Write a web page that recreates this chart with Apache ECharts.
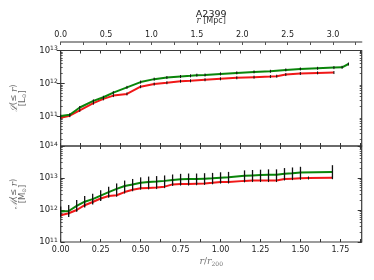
<!DOCTYPE html>
<html><head><meta charset="utf-8">
<script src="https://cdn.jsdelivr.net/npm/echarts@6/dist/echarts.min.js"></script>
<style>html,body{margin:0;padding:0;background:#fff}#c{width:374px;height:280px}</style>
</head><body><div id="c"></div>
<script>
// ---- data ----
const lumMpcGreen = [0.00,0.10,0.21,0.36,0.47,0.58,0.73,0.88,1.03,1.17,1.32,1.43,1.50,1.59,1.76,1.94,2.13,2.31,2.48,2.64,2.83,3.01,3.10,3.17];
const lumGreen = [1.02e11,1.12e11,1.86e11,2.95e11,3.80e11,5.25e11,7.59e11,1.10e12,1.35e12,1.51e12,1.62e12,1.70e12,1.78e12,1.80e12,1.95e12,2.09e12,2.24e12,2.34e12,2.57e12,2.75e12,2.88e12,3.02e12,3.09e12,3.89e12];
const lumMpcRed = [0.00,0.10,0.21,0.36,0.47,0.58,0.73,0.88,1.03,1.17,1.32,1.43,1.59,1.76,1.94,2.13,2.31,2.38,2.48,2.64,2.83,3.01];
const lumRed = [9.1e10,1.05e11,1.51e11,2.51e11,3.39e11,4.27e11,4.79e11,7.94e11,9.55e11,1.05e12,1.17e12,1.20e12,1.29e12,1.38e12,1.48e12,1.55e12,1.62e12,1.66e12,1.86e12,2.00e12,2.09e12,2.14e12];

const massRGreen = [0,0.05,0.10,0.15,0.20,0.25,0.30,0.35,0.40,0.45,0.50,0.55,0.60,0.65,0.70,0.75,0.80,0.85,0.90,0.95,1.00,1.05,1.15,1.20,1.25,1.30,1.35,1.40,1.45,1.50,1.70];
const massGreen = [8.9e11,9.3e11,1.35e12,1.82e12,2.19e12,2.82e12,3.63e12,4.57e12,5.62e12,6.31e12,7.08e12,7.50e12,7.76e12,8.13e12,8.71e12,9.12e12,9.33e12,9.33e12,9.55e12,9.77e12,1.02e13,1.05e13,1.17e13,1.20e13,1.23e13,1.26e13,1.26e13,1.35e13,1.41e13,1.48e13,1.55e13];
const massErrGreenDex = [0.16,0.19,0.18,0.18,0.17,0.17,0.17,0.17,0.17,0.17,0.17,0.17,0.17,0.17,0.17,0.17,0.17,0.17,0.17,0.17,0.17,0.17,0.17,0.17,0.17,0.17,0.17,0.18,0.18,0.18,0.21];
const massRRed = [0,0.05,0.10,0.15,0.20,0.25,0.30,0.35,0.40,0.45,0.50,0.55,0.60,0.65,0.70,0.75,0.80,0.85,0.90,0.95,1.00,1.05,1.15,1.20,1.25,1.30,1.35,1.40,1.45,1.50,1.55,1.70];
const massRed = [6.9e11,7.9e11,1.0e12,1.41e12,1.78e12,2.29e12,2.75e12,2.88e12,3.63e12,4.27e12,4.79e12,4.90e12,5.01e12,5.37e12,6.31e12,6.46e12,6.46e12,6.61e12,6.76e12,7.08e12,7.50e12,7.50e12,8.13e12,8.32e12,8.32e12,8.32e12,8.32e12,9.33e12,9.55e12,9.77e12,1.0e13,1.02e13];

const topTickLabels = [0.0,0.5,1.0,1.5,2.0,2.5,3.0];
const topTicks = [0,0.25,0.5,0.75,1,1.25,1.5,1.75,2,2.25,2.5,2.75,3,3.25];
const bottomTickLabels = [0,0.25,0.5,0.75,1,1.25,1.5,1.75];
const bottomTicks = [0,0.125,0.25,0.375,0.5,0.625,0.75,0.875,1,1.125,1.25,1.375,1.5,1.625,1.75,1.875];
const lumDecades = [11,12,13];
const massDecades = [11,12,13,14];

// ---- geometry ----
const L = 60.7, W = 301;
const T0 = 50.5, H0 = 95.5, T1 = 146, H1 = 96;
const lumMin = 10.1, lumMax = 13, massMin = 11, massMax = 14;
const mpcMax = 3.316, rMax = 1.883;

function minorTicks(lo, hi) {
  const out = [];
  for (let d = Math.floor(lo); d < hi; d++) for (let k = 2; k <= 9; k++) {
    const v = d + Math.log10(k); if (v > lo && v < hi) out.push(v);
  }
  return out;
}
const lg = Math.log10;
const pts = (xs, ys) => xs.map((x, i) => [x, lg(ys[i])]);

const frameColor = '#3a3a3a';
const tickColor = '#333';
const labelStyle = {fontFamily: 'DejaVu Sans', fontSize: 8, color: '#222'};
const supRich = {
  b: {fontFamily: 'DejaVu Sans', fontSize: 8.5, color: '#222', lineHeight: 10},
  s: {fontFamily: 'DejaVu Sans', fontSize: 6, color: '#222', verticalAlign: 'top', padding: [0, 0, 3, 0]}
};
function yMajor(grid, lo, hi, decades, pos, labeled, name) {
  return {
    type: 'value', gridIndex: grid, min: lo, max: hi, position: pos,
    axisLine: {show: false}, splitLine: {show: false},
    axisTick: {show: true, inside: true, length: 4, customValues: decades, lineStyle: {color: tickColor, width: 1}},
    axisLabel: labeled ? {show: true, customValues: decades, margin: 3,
      formatter: v => '{b|10}{s|' + Math.round(v) + '}', rich: supRich} : {show: false},
    name: name || '', nameLocation: 'middle', nameGap: 33, nameRotate: 90,
    nameTextStyle: {color: '#666', fontFamily: 'DejaVu Sans', fontSize: 8.5, lineHeight: 9,
      rich: {i: {fontFamily: 'DejaVu Serif', fontStyle: 'italic', fontSize: 9, color: '#666'},
             u: {fontFamily: 'DejaVu Sans', fontSize: 5.5, color: '#666', verticalAlign: 'bottom'}}}
  };
}
function yMinor(grid, lo, hi, pos) {
  return {
    type: 'value', gridIndex: grid, min: lo, max: hi, position: pos,
    axisLine: {show: false}, splitLine: {show: false}, axisLabel: {show: false},
    axisTick: {show: true, inside: true, length: 2, customValues: minorTicks(lo, hi), lineStyle: {color: tickColor, width: 0.8}}
  };
}
function xTicksOnly(grid, pos, max, ticks) {
  return {
    type: 'value', gridIndex: grid, min: 0, max: max, position: pos,
    axisLine: {show: false}, splitLine: {show: false}, axisLabel: {show: false},
    axisTick: {show: true, inside: true, length: 3, customValues: ticks, lineStyle: {color: tickColor, width: 1}}
  };
}

function errRender(px, w) {
  return function (params, api) {
    const x = api.value(0), y = api.value(1), e = api.value(2);
    let p1, p2;
    if (px) { const c = api.coord([x, y]); p1 = [c[0], c[1] - px]; p2 = [c[0], c[1] + px]; }
    else { p1 = api.coord([x, y - e]); p2 = api.coord([x, y + e]); }
    return {type: 'line', shape: {x1: p1[0], y1: p1[1], x2: p2[0], y2: p2[1]},
      style: {stroke: '#111', lineWidth: w}};
  };
}

const green = '#0a850a', red = '#f01818';

const option = {
  animation: false,
  grid: [
    {left: L, top: T0, width: W, height: H0, show: true, borderColor: frameColor, borderWidth: 1.2, backgroundColor: 'transparent'},
    {left: L, top: T1, width: W, height: H1, show: true, borderColor: frameColor, borderWidth: 1.2, backgroundColor: 'transparent'}
  ],
  graphic: [
    {type: 'text', x: L + W / 2, y: 15, style: {text: 'A2399', fontFamily: 'DejaVu Sans', fontSize: 9.5, fill: '#222', align: 'center', verticalAlign: 'middle'}}
  ],
  xAxis: [
    {type: 'value', gridIndex: 0, min: 0, max: mpcMax, position: 'top', offset: 8.5,
      axisLine: {show: true, lineStyle: {color: '#777', width: 1.5}}, splitLine: {show: false},
      axisTick: {show: true, inside: true, length: 3, customValues: topTicks, lineStyle: {color: '#555', width: 1}},
      axisLabel: Object.assign({customValues: topTickLabels, margin: 3, formatter: v => v.toFixed(1)}, labelStyle),
      name: '{i|r} [Mpc]', nameLocation: 'middle', nameGap: 17,
      nameTextStyle: {fontFamily: 'DejaVu Sans', fontSize: 8, color: '#333',
        rich: {i: {fontFamily: 'DejaVu Serif', fontStyle: 'italic', fontSize: 8.5, color: '#333'}}}},
    xTicksOnly(0, 'top', rMax, bottomTicks),
    xTicksOnly(0, 'bottom', rMax, bottomTicks),
    {type: 'value', gridIndex: 1, min: 0, max: rMax, position: 'bottom',
      axisLine: {show: false}, splitLine: {show: false},
      axisTick: {show: true, inside: true, length: 3, customValues: bottomTicks, lineStyle: {color: tickColor, width: 1}},
      axisLabel: Object.assign({customValues: bottomTickLabels, margin: 4, formatter: v => v.toFixed(2)}, labelStyle),
      name: '{i|r}/{i|r}{u|200}', nameLocation: 'middle', nameGap: 15,
      nameTextStyle: {color: '#777', fontFamily: 'DejaVu Serif', fontSize: 9,
        rich: {i: {fontFamily: 'DejaVu Serif', fontStyle: 'italic', fontSize: 9.5, color: '#777'},
               u: {fontFamily: 'DejaVu Serif', fontSize: 6, color: '#777', verticalAlign: 'bottom', padding: [4, 0, 0, 0]}}}},
    xTicksOnly(1, 'top', rMax, bottomTicks)
  ],
  yAxis: [
    yMajor(0, lumMin, lumMax, lumDecades, 'left', true, '{i|ℒ}(≤ {i|r})\n[L{u|⊙}]'),
    yMinor(0, lumMin, lumMax, 'left'),
    yMajor(0, lumMin, lumMax, lumDecades, 'right', false),
    yMinor(0, lumMin, lumMax, 'right'),
    yMajor(1, massMin, massMax, massDecades, 'left', true, '{i|ℳ}(≤ {i|r})\n[M{u|⊙}]'),
    yMinor(1, massMin, massMax, 'left'),
    yMajor(1, massMin, massMax, massDecades, 'right', false),
    yMinor(1, massMin, massMax, 'right')
  ],
  series: [
    {type: 'line', xAxisIndex: 0, yAxisIndex: 0, data: pts(lumMpcRed, lumRed), showSymbol: false,
      lineStyle: {color: red, width: 2}, z: 2},
    {type: 'line', xAxisIndex: 0, yAxisIndex: 0, data: pts(lumMpcGreen, lumGreen), showSymbol: false,
      lineStyle: {color: green, width: 2}, z: 3},
    {type: 'custom', xAxisIndex: 0, yAxisIndex: 0, renderItem: errRender(1.5, 1), z: 4,
      data: pts(lumMpcRed, lumRed).map(p => [p[0], p[1], 0]).concat(pts(lumMpcGreen, lumGreen).map(p => [p[0], p[1], 0]))},
    {type: 'line', xAxisIndex: 3, yAxisIndex: 4, data: pts(massRRed, massRed), showSymbol: false,
      lineStyle: {color: red, width: 2}, z: 2},
    {type: 'line', xAxisIndex: 3, yAxisIndex: 4, data: pts(massRGreen, massGreen), showSymbol: false,
      lineStyle: {color: green, width: 2}, z: 3},
    {type: 'custom', xAxisIndex: 3, yAxisIndex: 4, renderItem: errRender(1.5, 1), z: 4,
      data: pts(massRRed, massRed).map(p => [p[0], p[1], 0])},
    {type: 'custom', xAxisIndex: 3, yAxisIndex: 4, renderItem: errRender(0, 1.3), z: 5,
      data: pts(massRGreen, massGreen).map((p, i) => [p[0], p[1], massErrGreenDex[i]])}
  ]
};
const chart = echarts.init(document.getElementById('c'), null, {renderer: 'canvas'});
chart.setOption(option);
</script></body></html>
